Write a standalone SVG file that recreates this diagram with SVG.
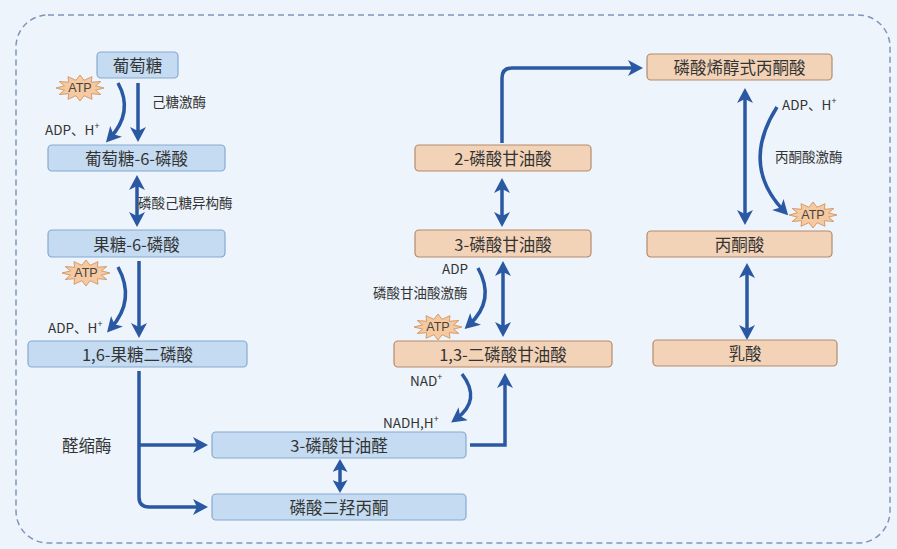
<svg xmlns="http://www.w3.org/2000/svg" xmlns:xlink="http://www.w3.org/1999/xlink" width="897" height="549" viewBox="0 0 897 549">
<style>
.bg{fill:#EDF4FC}
.frame{fill:none;stroke:#7F95B8;stroke-width:1.5;stroke-dasharray:6 4}
.nb rect{fill:#C4DBF1;stroke:#86A9D0;stroke-width:1.2}
.no rect{fill:#F3D3B8;stroke:#B58A6B;stroke-width:1.2}
.nt{font-family:"Noto Sans CJK SC","Noto Sans",sans-serif;font-size:16.5px;fill:#333;text-anchor:middle;dominant-baseline:central}
.lb{font-family:"Noto Sans CJK SC","Noto Sans",sans-serif;font-size:13.5px;fill:#333}
.lg{font-family:"Noto Sans CJK SC","Noto Sans",sans-serif;font-size:16.5px;fill:#333;dominant-baseline:central}
.atp{font-family:"Liberation Sans","Noto Sans",sans-serif;font-size:12.5px;fill:#444;text-anchor:middle;dominant-baseline:central}
.star{fill:#F6C9A0;stroke:#D59C6C;stroke-width:1}
.c path{fill:none;stroke:#2A58A2;stroke-width:3.5}
.one{marker-end:url(#ah)}
.two{marker-start:url(#ah);marker-end:url(#ah)}
.twos{marker-start:url(#ahs);marker-end:url(#ahs)}
</style>
<defs>
<marker id="ah" viewBox="0 0 15 16" refX="9" refY="8" markerWidth="15" markerHeight="16" markerUnits="userSpaceOnUse" orient="auto-start-reverse">
<path d="M0,0 L15,8 L0,16 L4,8 Z" fill="#2A58A2"/>
</marker>
<marker id="ahs" viewBox="0 0 13 15" refX="7" refY="7.5" markerWidth="13" markerHeight="15" markerUnits="userSpaceOnUse" orient="auto-start-reverse">
<path d="M0,0 L13,7.5 L0,15 L3,7.5 Z" fill="#2A58A2"/>
</marker>
<polygon id="star" class="star" points="24,0 15.5,2.1 20.8,6.5 11.3,5.7 12,11.3 4.1,7.7 0,13 -4.1,7.7 -12,11.3 -11.3,5.7 -20.8,6.5 -15.5,2.1 -24,0 -15.5,-2.1 -20.8,-6.5 -11.3,-5.7 -12,-11.3 -4.1,-7.7 0,-13 4.1,-7.7 12,-11.3 11.3,-5.7 20.8,-6.5 15.5,-2.1"/>
</defs>
<rect class="bg" x="0" y="0" width="897" height="549"/>
<rect class="frame" x="16" y="15" width="874" height="528" rx="32" ry="32"/>

<g id="connectors" class="c">
<path class="one" d="M138,83 V136"/>
<path class="one" d="M118,83 Q134,112 110,138"/>
<path class="two" d="M137,181 V221"/>
<path class="one" d="M139,261 V332"/>
<path class="one" d="M118,267 Q136,300 111,328"/>
<path class="one" d="M139,371 V497 Q139,507 149,507 H202"/>
<path class="one" d="M139,445 H202"/>
<path class="twos" d="M340,465 V487"/>
<path class="one" d="M470,445 H505 V379"/>
<path class="one" d="M462,374 Q482,400 456,419"/>
<path class="two" d="M503,267 V331"/>
<path class="one" d="M478,268 Q496,300 469,325"/>
<path class="two" d="M502,184 V221"/>
<path class="one" d="M502,143 V78 Q502,68 512,68 H637"/>
<path class="two" d="M745,94 V219"/>
<path class="one" d="M777,107 Q740,165 784,211"/>
<path class="two" d="M747,269 V334"/>
</g>

<g id="labels">
<text class="lb" x="152" y="107">己糖激酶</text>
<text class="lb" x="45" y="135">ADP、H<tspan dy="-6" font-size="9">+</tspan></text>
<text class="lb" x="138" y="208">磷酸己糖异构酶</text>
<text class="lb" x="48" y="333">ADP、H<tspan dy="-6" font-size="9">+</tspan></text>
<text class="lg" x="62" y="445">醛缩酶</text>
<text class="lb" x="442" y="274">ADP</text>
<text class="lb" x="373" y="298">磷酸甘油酸激酶</text>
<text class="lb" x="410" y="386">NAD<tspan dy="-6" font-size="9">+</tspan></text>
<text class="lb" x="383" y="428">NADH,H<tspan dy="-6" font-size="9">+</tspan></text>
<text class="lb" x="782" y="110">ADP、H<tspan dy="-6" font-size="9">+</tspan></text>
<text class="lb" x="775" y="162">丙酮酸激酶</text>
</g>

<g id="atp1"><use xlink:href="#star" x="80" y="88"/><text class="atp" x="80" y="88">ATP</text></g>
<g id="atp2"><use xlink:href="#star" x="86" y="273"/><text class="atp" x="86" y="273">ATP</text></g>
<g id="atp3"><use xlink:href="#star" x="438" y="327"/><text class="atp" x="438" y="327">ATP</text></g>
<g id="atp4"><use xlink:href="#star" x="813" y="215"/><text class="atp" x="813" y="215">ATP</text></g>

<g id="n-glucose" class="nb"><rect x="97" y="52" width="81" height="26" rx="4"/><text class="nt" x="137.5" y="65">葡萄糖</text></g>
<g id="n-g6p" class="nb"><rect x="48" y="145" width="177" height="26" rx="4"/><text class="nt" x="136.5" y="158">葡萄糖-6-磷酸</text></g>
<g id="n-f6p" class="nb"><rect x="48" y="230" width="177" height="27" rx="4"/><text class="nt" x="136.5" y="243.5">果糖-6-磷酸</text></g>
<g id="n-f16bp" class="nb"><rect x="28" y="341" width="219" height="26" rx="4"/><text class="nt" x="137.5" y="354">1,6-果糖二磷酸</text></g>
<g id="n-g3p" class="nb"><rect x="212" y="432" width="254" height="26" rx="4"/><text class="nt" x="339" y="445">3-磷酸甘油醛</text></g>
<g id="n-dhap" class="nb"><rect x="212" y="494" width="254" height="26" rx="4"/><text class="nt" x="339" y="507">磷酸二羟丙酮</text></g>
<g id="n-2pg" class="no"><rect x="415" y="145" width="176" height="26" rx="4"/><text class="nt" x="503" y="158">2-磷酸甘油酸</text></g>
<g id="n-3pg" class="no"><rect x="415" y="230" width="176" height="27" rx="4"/><text class="nt" x="503" y="243.5">3-磷酸甘油酸</text></g>
<g id="n-13bpg" class="no"><rect x="394" y="341" width="218" height="26" rx="4"/><text class="nt" x="503" y="354">1,3-二磷酸甘油酸</text></g>
<g id="n-pep" class="no"><rect x="647" y="54" width="185" height="26" rx="4"/><text class="nt" x="739.5" y="67">磷酸烯醇式丙酮酸</text></g>
<g id="n-pyr" class="no"><rect x="647" y="231" width="185" height="26" rx="4"/><text class="nt" x="739.5" y="244">丙酮酸</text></g>
<g id="n-lac" class="no"><rect x="653" y="340" width="184" height="26" rx="4"/><text class="nt" x="745" y="353">乳酸</text></g>
</svg>
